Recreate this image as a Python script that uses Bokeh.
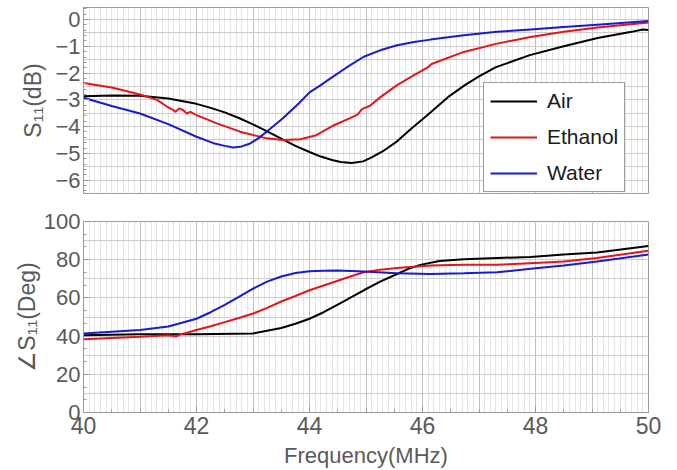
from bokeh.plotting import figure
from bokeh.layouts import column
from bokeh.models import SingleIntervalTicker, Range1d, Legend, LegendItem, CustomJSTickFormatter
from bokeh.embed import file_html
from bokeh.resources import INLINE

# ---------------- data ----------------
air_f = [40, 40.5, 41, 41.5, 42, 42.25, 42.5, 42.75, 43, 43.25, 43.5, 43.75, 44, 44.2, 44.4, 44.55, 44.75, 44.95, 45.1, 45.3, 45.55, 45.8, 46.1, 46.45, 46.75, 47.0, 47.3, 47.9, 48.5, 49.1, 49.7, 49.9, 50]
air_db = [-2.87, -2.84, -2.85, -2.95, -3.15, -3.3, -3.47, -3.68, -3.92, -4.18, -4.45, -4.72, -4.95, -5.12, -5.25, -5.32, -5.36, -5.3, -5.15, -4.92, -4.55, -4.08, -3.55, -2.9, -2.45, -2.12, -1.78, -1.33, -1.0, -0.69, -0.46, -0.37, -0.39]

eth_f = [40, 40.5, 41, 41.3, 41.47, 41.59, 41.63, 41.69, 41.76, 41.83, 41.89, 42.0, 42.36, 42.77, 43.24, 43.53, 43.84, 44.12, 44.42, 44.71, 44.85, 44.93, 45.07, 45.26, 45.55, 45.85, 46.1, 46.16, 46.73, 47.32, 47.91, 48.5, 49.1, 50]
eth_db = [-2.37, -2.54, -2.8, -3.0, -3.24, -3.38, -3.45, -3.32, -3.38, -3.51, -3.45, -3.57, -3.88, -4.19, -4.44, -4.5, -4.47, -4.32, -3.96, -3.69, -3.55, -3.35, -3.22, -2.89, -2.45, -2.08, -1.78, -1.66, -1.21, -0.9, -0.65, -0.46, -0.3, -0.11]

wat_f = [40, 40.5, 41, 41.5, 42, 42.3, 42.5, 42.65, 42.8, 42.95, 43.1, 43.24, 43.53, 43.84, 44.0, 44.2, 44.37, 44.65, 44.96, 45.25, 45.55, 45.85, 46.14, 46.73, 47.32, 47.91, 48.5, 49.09, 50]
wat_db = [-2.92, -3.23, -3.51, -3.91, -4.38, -4.62, -4.72, -4.78, -4.74, -4.63, -4.43, -4.19, -3.69, -3.07, -2.72, -2.45, -2.2, -1.8, -1.39, -1.15, -0.96, -0.84, -0.75, -0.59, -0.46, -0.37, -0.28, -0.19, -0.05]

air_pf = [40, 41, 42, 43, 43.5, 43.75, 44, 44.25, 44.5, 44.75, 44.96, 45.25, 45.55, 45.75, 45.96, 46.3, 46.73, 47.32, 47.91, 48.5, 49.09, 50]
air_deg = [40.5, 41, 41, 41.4, 44.2, 46.5, 49.1, 52.5, 56.5, 60.5, 64, 68.5, 72.5, 75.2, 77.3, 79.3, 80.2, 80.9, 81.4, 82.7, 83.8, 87.2]

eth_pf = [40, 41, 41.5, 41.65, 41.7, 41.8, 42, 42.25, 42.5, 42.75, 43, 43.25, 43.5, 43.75, 44, 44.25, 44.5, 44.75, 44.96, 45.25, 45.55, 46.14, 46.73, 47.32, 47.91, 48.5, 49.09, 50]
eth_deg = [38.3, 39.6, 40.5, 39.8, 40.8, 41.5, 43.2, 45.2, 47.3, 49.5, 51.8, 54.8, 58.1, 61, 64, 66.5, 69, 71.5, 73.4, 74.8, 75.7, 77, 77.3, 77.3, 78.2, 79.1, 80.9, 84.7]

wat_pf = [40, 41, 41.5, 42, 42.25, 42.5, 42.75, 43, 43.25, 43.5, 43.75, 44, 44.25, 44.5, 44.96, 45.55, 46.14, 46.73, 47.32, 47.91, 48.5, 49.09, 50]
wat_deg = [41.4, 43.2, 45, 49.1, 52.5, 56.3, 60.5, 64.8, 68.5, 71.2, 73, 73.9, 74.2, 74.3, 73.8, 72.9, 72.5, 72.9, 73.4, 75.2, 77, 79.1, 82.7]

labels = ["Air", "Ethanol", "Water"]
colors = ["#000000", "#e3161b", "#1a1ad2"]

FONT = "Liberation Sans"
TXT = "#5a5a5a"

minus_fmt = CustomJSTickFormatter(code="return (tick < 0 ? '\\u2212' : '') + Math.abs(tick).toString();")


def style(p, y_interval, y_minor, ygrid_interval):
    p.outline_line_color = "#9a9a9a"
    p.outline_line_width = 1
    p.background_fill_color = "white"
    p.border_fill_color = "white"
    p.xgrid.ticker = SingleIntervalTicker(interval=1, num_minor_ticks=10)
    p.xgrid.grid_line_color = "#c0c0c0"
    p.xgrid.minor_grid_line_color = "#e4e4e4"
    p.ygrid.ticker = SingleIntervalTicker(interval=ygrid_interval, num_minor_ticks=0)
    p.ygrid.grid_line_color = "#cccccc"
    for ax in p.yaxis:
        ax.ticker = SingleIntervalTicker(interval=y_interval, num_minor_ticks=y_minor)
        ax.formatter = minus_fmt
        ax.axis_line_color = "#9a9a9a"
        ax.major_tick_in = 6
        ax.major_tick_out = 0
        ax.minor_tick_in = 3
        ax.minor_tick_out = 0
        ax.major_tick_line_color = "#9a9a9a"
        ax.minor_tick_line_color = "#9a9a9a"
        ax.major_label_text_font = FONT
        ax.major_label_text_font_size = "22px"
        ax.major_label_text_color = TXT
        ax.major_label_standoff = 3
        ax.axis_label_text_font = FONT
        ax.axis_label_text_font_size = "23px"
        ax.axis_label_text_color = TXT
        ax.axis_label_text_font_style = "normal"


# ---------------- top: S11 magnitude ----------------
top = figure(width=677, height=200, output_backend="svg", toolbar_location=None,
             x_range=Range1d(40, 50), y_range=Range1d(-6.5, 0.45),
             min_border_left=83, min_border_right=29, min_border_top=7, min_border_bottom=7)
style(top, 1, 5, 0.5)
top.xaxis.visible = False
top.yaxis.axis_label = "S\u2081\u2081(dB)"
top.yaxis.axis_label_standoff = 6

r_air = top.line(air_f, air_db, line_color=colors[0], line_width=2)
r_eth = top.line(eth_f, eth_db, line_color=colors[1], line_width=2)
r_wat = top.line(wat_f, wat_db, line_color=colors[2], line_width=2)

legend = Legend(items=[LegendItem(label=labels[0], renderers=[r_air]),
                       LegendItem(label=labels[1], renderers=[r_eth]),
                       LegendItem(label=labels[2], renderers=[r_wat])],
                location=(400, 1))
legend.label_text_font = FONT
legend.label_text_font_size = "21px"
legend.label_text_color = "#1a1a1a"
legend.glyph_width = 47
legend.glyph_height = 24
legend.label_height = 24
legend.label_standoff = 10
legend.spacing = 12
legend.padding = 6
legend.margin = 0
legend.border_line_color = "#3a3a3a"
legend.border_line_width = 1.5
legend.background_fill_alpha = 1
top.add_layout(legend)

# ---------------- bottom: S11 phase ----------------
bot = figure(width=677, height=270, output_backend="svg", toolbar_location=None,
             x_range=Range1d(40, 50), y_range=Range1d(0, 100),
             min_border_left=83, min_border_right=29, min_border_top=21, min_border_bottom=30)
style(bot, 20, 3, 10)
bot.yaxis.axis_label = "\u2220S\u2081\u2081(Deg)"
bot.yaxis.axis_label_standoff = 1
xa = bot.xaxis[0]
xa.ticker = SingleIntervalTicker(interval=2, num_minor_ticks=4)
xa.axis_line_color = "#9a9a9a"
xa.major_tick_in = 6
xa.major_tick_out = 0
xa.minor_tick_in = 3
xa.minor_tick_out = 0
xa.major_tick_line_color = "#9a9a9a"
xa.minor_tick_line_color = "#9a9a9a"
xa.major_label_text_font = FONT
xa.major_label_text_font_size = "23px"
xa.major_label_text_color = TXT
xa.major_label_standoff = 4
xa.axis_label = "Frequency(MHz)"
xa.axis_label_text_font = FONT
xa.axis_label_text_font_size = "22px"
xa.axis_label_text_color = TXT
xa.axis_label_text_font_style = "normal"
xa.axis_label_standoff = 6

bot.line(air_pf, air_deg, line_color=colors[0], line_width=2)
bot.line(eth_pf, eth_deg, line_color=colors[1], line_width=2)
bot.line(wat_pf, wat_deg, line_color=colors[2], line_width=2)

layout = column(top, bot, spacing=0)
open("out.html", "w").write(file_html(layout, INLINE))
